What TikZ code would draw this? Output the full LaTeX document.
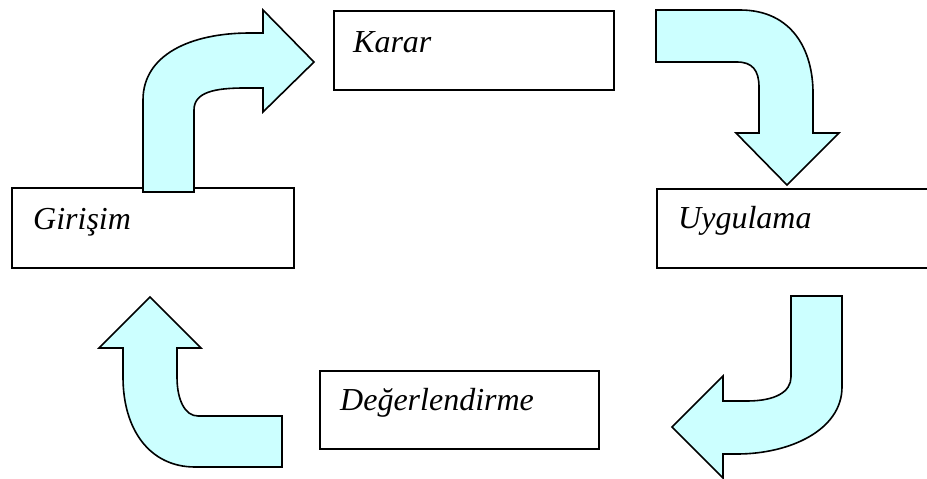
\documentclass[tikz,border=0pt]{standalone}
\usepackage{fontspec}
\setmainfont{Liberation Serif}
\usetikzlibrary{calc}
\definecolor{arrowfill}{HTML}{CCFFFF}
\tikzset{
  stagebox/.style={draw=black, line width=2pt, fill=white, rectangle,
    inner sep=0pt, anchor=north west},
  stagetext/.style={anchor=base west, inner sep=0pt,
    font=\fontsize{32}{38}\selectfont\itshape},
  blockarrow/.style={draw=black, line width=1.6pt, fill=arrowfill, line join=miter}
}
\begin{document}
\begin{tikzpicture}[x=1pt, y=-1pt]
\useasboundingbox (0,0) rectangle (927,479);

% the four stage boxes
\node[stagebox, minimum width=280pt, minimum height=79pt] (karar) at (333,10) {};
\node[stagebox, minimum width=282pt, minimum height=80pt] (girisim) at (11,187) {};
\node[stagebox, minimum width=280pt, minimum height=79pt] (uygulama) at (656,188) {};
\node[stagebox, minimum width=279pt, minimum height=78pt] (deger) at (319,370) {};

\node[stagetext] (kararT) at ($(karar.north west)+(20,42)$) {Karar};
\node[stagetext] (girisimT) at ($(girisim.north west)+(22,42)$) {Girişim};
\node[stagetext] (uygulamaT) at ($(uygulama.north west)+(22,40)$) {Uygulama};
\node[stagetext] (degerT) at ($(deger.north west)+(21,40)$) {Değerlendirme};

% Girişim -> Karar
\draw[blockarrow] (143,192) -- (143,100)
  .. controls (143,55) and (190,33) .. (250,33) -- (263,33) -- (263,10)
  -- (314,62) -- (263,112) -- (263,88) -- (245,88)
  .. controls (215,88) and (194,92) .. (194,110) -- (194,192) -- cycle;

% Karar -> Uygulama
\draw[blockarrow] (656,10) -- (740,10)
  .. controls (792,10) and (813,50) .. (813,93) -- (813,133) -- (839,133)
  -- (787,185) -- (736,133) -- (759,133) -- (759,87)
  .. controls (759,70) and (752,62) .. (737,62) -- (656,62) -- cycle;

% Uygulama -> Değerlendirme
\draw[blockarrow] (791,296) -- (842,296) -- (842,387)
  .. controls (842,430) and (790,454) .. (737,454) -- (723,454) -- (723,478)
  -- (672,427) -- (723,376) -- (723,401) -- (747,401)
  .. controls (775,401) and (791,392) .. (791,377) -- cycle;

% Değerlendirme -> Girişim
\draw[blockarrow] (150,297) -- (201,348) -- (177,348) -- (177,377)
  .. controls (177,400) and (185,416) .. (198,416) -- (282,416) -- (282,467)
  -- (195,467) .. controls (150,467) and (123,430) .. (123,377)
  -- (123,348) -- (99,348) -- cycle;
\end{tikzpicture}
\end{document}
